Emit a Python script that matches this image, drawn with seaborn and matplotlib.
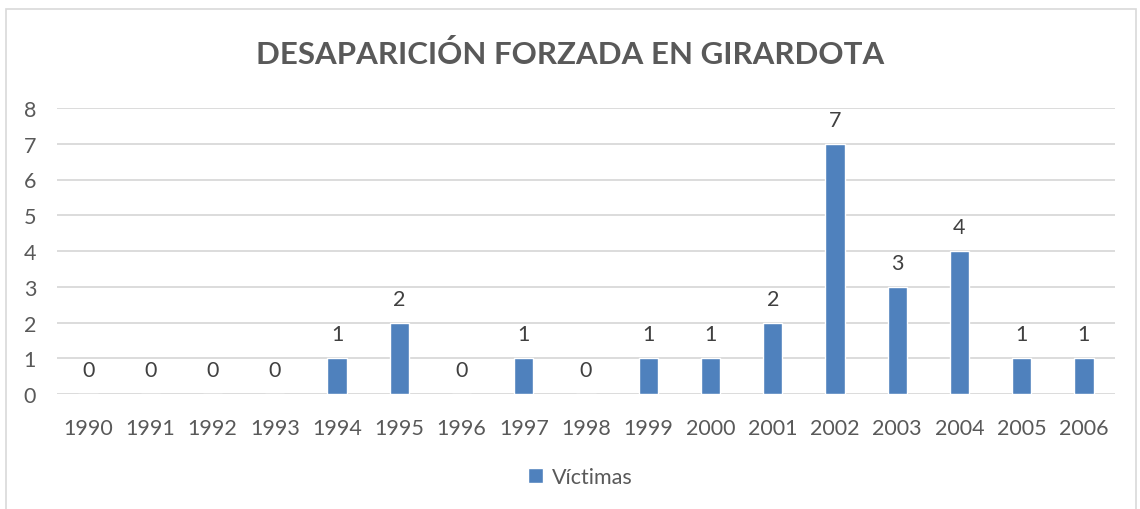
import matplotlib
matplotlib.use("Agg")
import matplotlib.pyplot as plt
import seaborn as sns
import pandas as pd
from matplotlib.patches import Rectangle

years = ["1990", "1991", "1992", "1993", "1994", "1995", "1996", "1997", "1998",
         "1999", "2000", "2001", "2002", "2003", "2004", "2005", "2006"]
victimas = [0, 0, 0, 0, 1, 2, 0, 1, 0, 1, 1, 2, 7, 3, 4, 1, 1]
title = "DESAPARICIÓN FORZADA EN GIRARDOTA"
series_name = "Víctimas"

sns.set_theme(style="white")
plt.rcParams['font.family'] = ['Lato', 'DejaVu Sans']

df = pd.DataFrame({"year": years, "value": victimas})

fig = plt.figure(figsize=(11.4, 5.1), dpi=100)
ax = fig.add_axes([57/1140, 1-395/510, (1115-57)/1140, (395-109)/510])

bar_color = "#4F81BD"
sns.barplot(data=df, x="year", y="value", color=bar_color, width=0.31,
            ax=ax, label=series_name, saturation=1)

ax.set_ylim(0, 8)
ax.set_yticks(range(0, 9))
ax.yaxis.grid(True, color="#D9D9D9", linewidth=1.3)
ax.set_axisbelow(True)
for s in ax.spines.values():
    s.set_visible(False)
ax.set_xlabel("")
ax.set_ylabel("")
ax.tick_params(axis="both", length=0, labelsize=15.5, colors="#595959")
ax.tick_params(axis="x", pad=17)
for lbl in ax.get_yticklabels():
    lbl.set_horizontalalignment("left")
ax.tick_params(axis="y", pad=24)

for c in ax.containers:
    ax.bar_label(c, labels=[str(v) for v in victimas], padding=10,
                 fontsize=15.5, color="#404040")

fig.text(0.5, 1-55/510, title, ha="center", va="center", fontsize=22.5,
         fontweight="bold", color="#595959")

leg = ax.legend(loc="center", bbox_to_anchor=(580/1140, 1-478/510),
                bbox_transform=fig.transFigure, frameon=False, fontsize=15.5,
                handlelength=0.7, handleheight=0.7, handletextpad=0.4)
for t in leg.get_texts():
    t.set_color("#595959")

fig.patches.append(Rectangle((6/1140, -0.05), (1136-6)/1140, 1-10/510+0.05,
                             transform=fig.transFigure, fill=False,
                             edgecolor="#D9D9D9", linewidth=1.2))

fig.savefig("out.png", dpi=100)
